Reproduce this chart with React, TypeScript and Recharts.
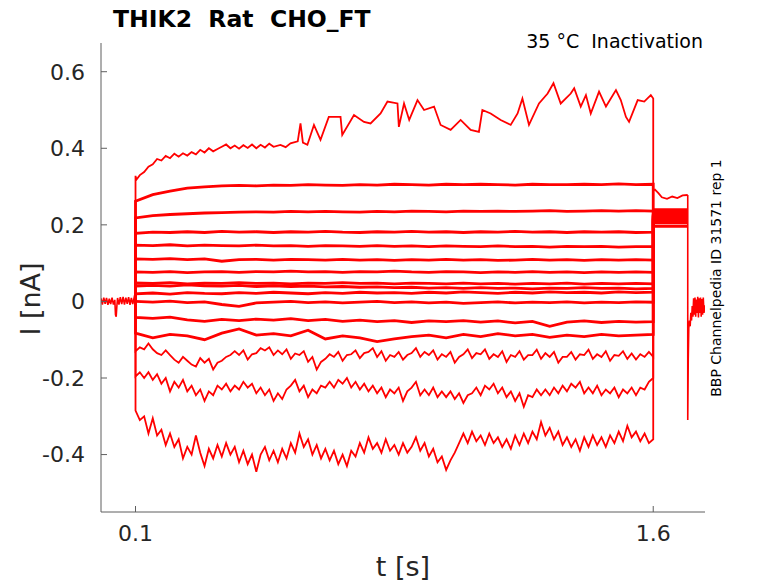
import { Line, LineChart, XAxis, YAxis } from "recharts";

// time grids (s)
const gridT = [
  0.1, 0.15, 0.2, 0.25, 0.3, 0.35, 0.4, 0.45, 0.5, 0.55, 0.6, 0.65, 0.7, 0.75, 0.8, 0.85,
  0.9, 0.95, 1.0, 1.05, 1.1, 1.15, 1.2, 1.25, 1.3, 1.35, 1.4, 1.45, 1.5, 1.55, 1.6,
];
const fineT = [
  0.1, 0.1125, 0.125, 0.1375, 0.15, 0.1625, 0.175, 0.1875, 0.2, 0.2125, 0.225, 0.2375, 0.25,
  0.2625, 0.275, 0.2875, 0.3, 0.3125, 0.325, 0.3375, 0.35, 0.3625, 0.375, 0.3875, 0.4, 0.4125,
  0.425, 0.4375, 0.45, 0.4625, 0.475, 0.4875, 0.5, 0.5125, 0.525, 0.5375, 0.55, 0.5625, 0.575,
  0.5875, 0.6, 0.6125, 0.625, 0.6375, 0.65, 0.6625, 0.675, 0.6875, 0.7, 0.7125, 0.725, 0.7375,
  0.75, 0.7625, 0.775, 0.7875, 0.8, 0.8125, 0.825, 0.8375, 0.85, 0.8625, 0.875, 0.8875, 0.9,
  0.9125, 0.925, 0.9375, 0.95, 0.9625, 0.975, 0.9875, 1.0, 1.0125, 1.025, 1.0375, 1.05, 1.0625,
  1.075, 1.0875, 1.1, 1.1125, 1.125, 1.1375, 1.15, 1.1625, 1.175, 1.1875, 1.2, 1.2125, 1.225,
  1.2375, 1.25, 1.2625, 1.275, 1.2875, 1.3, 1.3125, 1.325, 1.3375, 1.35, 1.3625, 1.375, 1.3875,
  1.4, 1.4125, 1.425, 1.4375, 1.45, 1.4625, 1.475, 1.4875, 1.5, 1.5125, 1.525, 1.5375, 1.55,
  1.5625, 1.575, 1.5875, 1.6,
];

// holding current before the step and after the tail
const baseT = [
  0, 0.004, 0.008, 0.012, 0.016, 0.02, 0.024, 0.028, 0.032, 0.036, 0.04, 0.042, 0.044, 0.046,
  0.048, 0.052, 0.056, 0.06, 0.064, 0.068, 0.072, 0.076, 0.08, 0.084, 0.088, 0.092, 0.096, 0.1,
];
const baseV = [
  0.008, -0.008, 0.01, -0.006, 0.009, -0.009, 0.007, -0.007, 0.01, -0.008, 0.004, -0.035,
  -0.04, -0.012, 0.009, -0.008, 0.011, -0.007, 0.012, -0.008, 0.01, -0.006, 0.011, -0.009,
  0.009, -0.007, 0.01, 0,
];
const postT = [
  1.7, 1.7, 1.7015, 1.703, 1.705, 1.707, 1.709, 1.711, 1.713, 1.715, 1.717, 1.719, 1.721, 1.723,
  1.725, 1.727, 1.729, 1.731, 1.733, 1.735, 1.737, 1.739, 1.741, 1.743, 1.745, 1.747, 1.75,
];
const postV = [
  0.278, -0.31, -0.15, -0.07, -0.05, -0.065, -0.03, -0.05, -0.012, -0.04, 0.008, -0.035, 0.01,
  -0.04, 0.005, -0.03, 0.012, -0.042, 0.008, -0.03, 0.01, -0.04, 0.006, -0.035, 0.01, -0.03,
  -0.01,
];

// largest outward current
const topT = [
  0.1, 0.1025, 0.1125, 0.125, 0.1375, 0.15, 0.1625, 0.175, 0.1875, 0.2, 0.2125, 0.225, 0.2375,
  0.25, 0.2625, 0.275, 0.2875, 0.3, 0.3125, 0.325, 0.3375, 0.35, 0.3625, 0.375, 0.3875, 0.4,
  0.4125, 0.425, 0.4375, 0.45, 0.4625, 0.475, 0.4875, 0.5, 0.52, 0.535, 0.549, 0.57, 0.578,
  0.585, 0.598, 0.617, 0.636, 0.66, 0.694, 0.699, 0.733, 0.762, 0.781, 0.81, 0.83, 0.859, 0.863,
  0.878, 0.893, 0.917, 0.936, 0.965, 0.984, 1.013, 1.042, 1.071, 1.095, 1.105, 1.129, 1.158,
  1.187, 1.207, 1.221, 1.24, 1.269, 1.294, 1.311, 1.332, 1.361, 1.371, 1.39, 1.405, 1.419,
  1.443, 1.463, 1.492, 1.506, 1.521, 1.53, 1.555, 1.574, 1.593, 1.6,
];
const topV = [
  0.328, 0.318, 0.33, 0.338, 0.352, 0.358, 0.372, 0.368, 0.38, 0.374, 0.386, 0.378, 0.387,
  0.381, 0.39, 0.384, 0.396, 0.389, 0.4, 0.392, 0.398, 0.404, 0.41, 0.4, 0.407, 0.399, 0.408,
  0.401, 0.41, 0.4, 0.409, 0.402, 0.412, 0.404, 0.409, 0.403, 0.413, 0.418, 0.465, 0.415, 0.409,
  0.461, 0.422, 0.482, 0.482, 0.435, 0.487, 0.469, 0.465, 0.491, 0.522, 0.517, 0.456, 0.517,
  0.474, 0.526, 0.5, 0.509, 0.461, 0.448, 0.474, 0.448, 0.443, 0.5, 0.491, 0.474, 0.461, 0.491,
  0.53, 0.461, 0.517, 0.543, 0.57, 0.517, 0.543, 0.557, 0.509, 0.539, 0.491, 0.548, 0.509,
  0.552, 0.526, 0.482, 0.469, 0.526, 0.522, 0.539, 0.53,
];
const topTailT = [1.6, 1.605, 1.615, 1.625, 1.64, 1.655, 1.67, 1.685, 1.7];
const topTailV = [0.29, 0.292, 0.283, 0.272, 0.268, 0.274, 0.27, 0.277, 0.278];

// steady traces, sampled on gridT
const trace2 = [
  0.262, 0.279, 0.288, 0.296, 0.299, 0.302, 0.303, 0.302, 0.304, 0.303, 0.305, 0.304, 0.303,
  0.305, 0.304, 0.306, 0.305, 0.304, 0.306, 0.305, 0.306, 0.305, 0.304, 0.306, 0.305, 0.305,
  0.306, 0.305, 0.307, 0.305, 0.306,
];
const trace3 = [
  0.218, 0.224, 0.227, 0.229, 0.231, 0.232, 0.233, 0.234, 0.233, 0.235, 0.234, 0.235, 0.234,
  0.233, 0.235, 0.234, 0.236, 0.235, 0.234, 0.236, 0.235, 0.236, 0.235, 0.236, 0.237, 0.235,
  0.236, 0.237, 0.236, 0.237, 0.236,
];
const trace4 = [
  0.178, 0.181, 0.18, 0.182, 0.18, 0.183, 0.181, 0.182, 0.18, 0.182, 0.181, 0.183, 0.181, 0.18,
  0.182, 0.181, 0.183, 0.181, 0.182, 0.18, 0.182, 0.181, 0.183, 0.181, 0.182, 0.18, 0.182,
  0.181, 0.182, 0.18, 0.181,
];
const trace5 = [
  0.147, 0.146, 0.148, 0.145, 0.147, 0.146, 0.145, 0.147, 0.145, 0.146, 0.144, 0.146, 0.145,
  0.144, 0.146, 0.144, 0.145, 0.143, 0.145, 0.144, 0.143, 0.145, 0.143, 0.144, 0.142, 0.144,
  0.143, 0.144, 0.142, 0.143, 0.143,
];
const trace6 = [
  0.111, 0.11, 0.112, 0.109, 0.111, 0.105, 0.109, 0.11, 0.108, 0.11, 0.109, 0.108, 0.11, 0.108,
  0.109, 0.107, 0.109, 0.108, 0.11, 0.108, 0.109, 0.107, 0.108, 0.11, 0.108, 0.109, 0.107,
  0.109, 0.108, 0.109, 0.108,
];
const trace7 = [
  0.077, 0.076, 0.078, 0.075, 0.077, 0.078, 0.076, 0.078, 0.077, 0.079, 0.077, 0.078, 0.076,
  0.078, 0.077, 0.079, 0.077, 0.076, 0.078, 0.077, 0.075, 0.077, 0.076, 0.078, 0.076, 0.077,
  0.075, 0.077, 0.076, 0.077, 0.076,
];
const trace8 = [
  0.048, 0.047, 0.049, 0.046, 0.048, 0.047, 0.049, 0.047, 0.048, 0.046, 0.048, 0.047, 0.049,
  0.047, 0.048, 0.046, 0.048, 0.047, 0.046, 0.048, 0.046, 0.047, 0.045, 0.047, 0.046, 0.048,
  0.045, 0.047, 0.046, 0.047, 0.046,
];
const trace9 = [
  0.04, 0.042, 0.04, 0.043, 0.041, 0.04, 0.042, 0.039, 0.041, 0.039, 0.04, 0.038, 0.039, 0.037,
  0.038, 0.036, 0.037, 0.035, 0.036, 0.034, 0.036, 0.034, 0.035, 0.033, 0.035, 0.034, 0.036,
  0.034, 0.035, 0.033, 0.034,
];
const trace10 = [
  0.02, 0.022, 0.019, 0.023, 0.021, 0.02, 0.023, 0.021, 0.024, 0.022, 0.02, 0.023, 0.021, 0.024,
  0.022, 0.023, 0.021, 0.024, 0.022, 0.025, 0.023, 0.021, 0.024, 0.022, 0.025, 0.023, 0.024,
  0.022, 0.025, 0.023, 0.024,
];
const trace11 = [
  0.0, -0.002, 0.001, -0.003, -0.001, -0.008, -0.013, -0.004, -0.002, 0.0, -0.003, -0.001,
  -0.004, -0.002, 0.0, -0.003, -0.001, -0.004, -0.002, -0.005, -0.003, -0.001, -0.004, -0.002,
  -0.003, -0.001, -0.004, -0.002, -0.003, -0.001, -0.002,
];
const trace12 = [
  -0.042, -0.044, -0.041, -0.048, -0.052, -0.047, -0.05, -0.046, -0.049, -0.045, -0.05, -0.047,
  -0.052, -0.049, -0.053, -0.05, -0.055, -0.051, -0.053, -0.05, -0.054, -0.051, -0.056, -0.052,
  -0.065, -0.054, -0.051, -0.055, -0.052, -0.054, -0.053,
];
const trace13 = [
  -0.083, -0.095, -0.086, -0.09, -0.1, -0.083, -0.072, -0.088, -0.084, -0.09, -0.075, -0.098,
  -0.09, -0.095, -0.105, -0.098, -0.092, -0.088, -0.095, -0.086, -0.092, -0.084, -0.09, -0.086,
  -0.094, -0.088, -0.092, -0.086, -0.09, -0.088, -0.086,
];

// noisy inward traces, sampled on fineT
const trace14 = [
  -0.13, -0.12, -0.125, -0.11, -0.125, -0.135, -0.14, -0.128, -0.14, -0.152, -0.16, -0.145,
  -0.155, -0.165, -0.17, -0.148, -0.16, -0.15, -0.178, -0.16, -0.155, -0.145, -0.14, -0.13,
  -0.14, -0.128, -0.152, -0.138, -0.135, -0.122, -0.128, -0.12, -0.14, -0.128, -0.138, -0.125,
  -0.15, -0.136, -0.14, -0.13, -0.158, -0.145, -0.178, -0.158, -0.15, -0.138, -0.145, -0.132,
  -0.155, -0.14, -0.138, -0.128, -0.148, -0.135, -0.132, -0.122, -0.145, -0.13, -0.155, -0.14,
  -0.145, -0.132, -0.152, -0.14, -0.135, -0.122, -0.145, -0.132, -0.14, -0.128, -0.152, -0.138,
  -0.145, -0.132, -0.16, -0.145, -0.138, -0.125, -0.148, -0.135, -0.138, -0.125, -0.15, -0.138,
  -0.145, -0.13, -0.158, -0.14, -0.145, -0.13, -0.152, -0.14, -0.14, -0.126, -0.15, -0.135,
  -0.145, -0.132, -0.16, -0.145, -0.145, -0.132, -0.152, -0.138, -0.14, -0.126, -0.15, -0.138,
  -0.145, -0.13, -0.155, -0.14, -0.142, -0.13, -0.15, -0.136, -0.152, -0.138, -0.145, -0.132,
  -0.145,
];
const trace15 = [
  -0.196, -0.185, -0.2, -0.185, -0.205, -0.19, -0.215, -0.2, -0.235, -0.21, -0.225, -0.205,
  -0.235, -0.22, -0.245, -0.23, -0.26, -0.235, -0.245, -0.22, -0.23, -0.215, -0.235, -0.22,
  -0.23, -0.21, -0.225, -0.215, -0.24, -0.225, -0.245, -0.23, -0.26, -0.24, -0.255, -0.23,
  -0.22, -0.205, -0.235, -0.22, -0.25, -0.23, -0.24, -0.22, -0.225, -0.21, -0.225, -0.205,
  -0.215, -0.2, -0.225, -0.21, -0.23, -0.215, -0.235, -0.22, -0.24, -0.225, -0.25, -0.23,
  -0.24, -0.225, -0.26, -0.235, -0.225, -0.21, -0.245, -0.23, -0.245, -0.225, -0.25, -0.235,
  -0.25, -0.235, -0.255, -0.24, -0.265, -0.245, -0.24, -0.225, -0.245, -0.22, -0.23, -0.215,
  -0.24, -0.225, -0.25, -0.235, -0.26, -0.24, -0.275, -0.245, -0.25, -0.23, -0.245, -0.23,
  -0.245, -0.225, -0.24, -0.22, -0.235, -0.215, -0.225, -0.21, -0.24, -0.225, -0.24, -0.22,
  -0.245, -0.23, -0.24, -0.225, -0.25, -0.23, -0.24, -0.225, -0.245, -0.225, -0.23, -0.21,
  -0.2,
];
const trace16 = [
  -0.285, -0.31, -0.3, -0.345, -0.305, -0.35, -0.335, -0.375, -0.345, -0.38, -0.36, -0.41,
  -0.38, -0.4, -0.35, -0.395, -0.43, -0.385, -0.41, -0.375, -0.405, -0.37, -0.4, -0.38, -0.42,
  -0.39, -0.425, -0.4, -0.445, -0.4, -0.38, -0.415, -0.39, -0.42, -0.385, -0.41, -0.37, -0.395,
  -0.345, -0.38, -0.36, -0.4, -0.375, -0.41, -0.385, -0.415, -0.39, -0.425, -0.4, -0.43, -0.39,
  -0.405, -0.37, -0.395, -0.355, -0.385, -0.37, -0.395, -0.36, -0.39, -0.375, -0.4, -0.37,
  -0.395, -0.38, -0.355, -0.39, -0.37, -0.405, -0.385, -0.42, -0.405, -0.44, -0.415, -0.395,
  -0.37, -0.345, -0.37, -0.34, -0.365, -0.35, -0.375, -0.345, -0.37, -0.355, -0.38, -0.36,
  -0.385, -0.35, -0.375, -0.345, -0.37, -0.34, -0.36, -0.315, -0.35, -0.33, -0.36, -0.34,
  -0.375, -0.355, -0.38, -0.36, -0.39, -0.355, -0.38, -0.35, -0.375, -0.355, -0.38, -0.35,
  -0.37, -0.34, -0.365, -0.325, -0.355, -0.34, -0.365, -0.345, -0.37, -0.36,
];

// current between 1.6 s and 1.7 s, one per trace (trace2 .. trace16)
const tailLevels = [
  0.24, 0.235, 0.228, 0.222, 0.218, 0.232, 0.215, 0.225, 0.21, 0.22, 0.205, 0.212, 0.198, 0.208,
  0.195,
];

const yTicks = [-0.4, -0.2, 0, 0.2, 0.4, 0.6];
const xTicks = [0.1, 1.6];

const RED = "#ff0000";
const AXIS = "#5f5f5f";
const INK = "#262626";
const FONT = "'DejaVu Sans', sans-serif";

const zip = (ts: number[], vs: number[]) => ts.map((t, i) => ({ t, v: vs[i] }));

const stepTrace = (ts: number[], vs: number[], tail: number) => [
  { t: 0.1, v: 0 },
  ...zip(ts, vs),
  { t: 1.6, v: tail },
  { t: 1.7, v: tail },
];

const steady = [trace2, trace3, trace4, trace5, trace6, trace7, trace8, trace9, trace10, trace11, trace12, trace13];
const noisy = [trace14, trace15, trace16];

const YTick = (props: any) => {
  const { x, y, payload } = props;
  const label = payload.value === 0 ? "0" : payload.value.toFixed(1);
  return (
    <g>
      <line x1={x + 16} x2={x + 22} y1={y} y2={y} stroke={AXIS} />
      <text x={x} y={y} dy="0.36em" textAnchor="end" fontSize={22} fill={INK} fontFamily={FONT}>
        {label}
      </text>
    </g>
  );
};

const XTick = (props: any) => {
  const { x, y, payload } = props;
  return (
    <g>
      <line x1={x} x2={x} y1={y} y2={y - 6} stroke={AXIS} />
      <text x={x} y={y + 29} textAnchor="middle" fontSize={22} fill={INK} fontFamily={FONT}>
        {payload.value.toFixed(1)}
      </text>
    </g>
  );
};

export default function App() {
  const topData = [{ t: 0.1, v: 0 }, ...zip(topT, topV), ...zip(topTailT, topTailV)];
  return (
    <div style={{ position: "fixed", left: 0, top: 0, width: 778, height: 583, background: "#fff" }}>
      <LineChart width={778} height={583} margin={{ top: 43, right: 73, bottom: 0, left: 0 }}>
        <XAxis
          dataKey="t"
          type="number"
          domain={[0, 1.75]}
          ticks={xTicks}
          allowDataOverflow
          height={71}
          tickSize={0}
          tickMargin={0}
          tickLine={false}
          stroke={AXIS}
          tick={<XTick />}
        />
        <YAxis
          type="number"
          domain={[-0.55, 0.675]}
          ticks={yTicks}
          allowDataOverflow
          width={101}
          tickSize={0}
          tickMargin={16}
          tickLine={false}
          stroke={AXIS}
          tick={<YTick />}
        />
        <Line data={zip(baseT, baseV)} dataKey="v" stroke={RED} strokeWidth={1.6} dot={false} isAnimationActive={false} />
        <Line data={zip(postT, postV)} dataKey="v" stroke={RED} strokeWidth={1.6} dot={false} isAnimationActive={false} />
        <Line data={topData} dataKey="v" stroke={RED} strokeWidth={1.8} dot={false} isAnimationActive={false} />
        {steady.map((vs, i) => (
          <Line
            key={"s" + i}
            data={stepTrace(gridT, vs, tailLevels[i])}
            dataKey="v"
            stroke={RED}
            strokeWidth={2.8}
            dot={false}
            isAnimationActive={false}
          />
        ))}
        {noisy.map((vs, i) => (
          <Line
            key={"n" + i}
            data={stepTrace(fineT, vs, tailLevels[steady.length + i])}
            dataKey="v"
            stroke={RED}
            strokeWidth={1.8}
            dot={false}
            isAnimationActive={false}
          />
        ))}
      </LineChart>
      <svg
        width={778}
        height={583}
        style={{ position: "absolute", left: 0, top: 0, pointerEvents: "none" }}
        fontFamily={FONT}>
        <text x={113} y={27} fontSize={23.5} fontWeight="bold" fill="#000" xmlSpace="preserve" style={{ whiteSpace: "pre" }}>
          THIK2  Rat  CHO_FT
        </text>
        <text x={703} y={48} fontSize={19} textAnchor="end" fill="#000" xmlSpace="preserve" style={{ whiteSpace: "pre" }}>
          35 °C  Inactivation
        </text>
        <text transform="translate(40,299) rotate(-90)" textAnchor="middle" fontSize={27} fill={INK}>
          I [nA]
        </text>
        <text x={403} y={576} textAnchor="middle" fontSize={27} fill={INK}>
          t [s]
        </text>
        <text transform="translate(721,278) rotate(-90)" textAnchor="middle" fontSize={14} fill="#000">
          BBP Channelpedia ID 31571 rep 1
        </text>
      </svg>
    </div>
  );
}
